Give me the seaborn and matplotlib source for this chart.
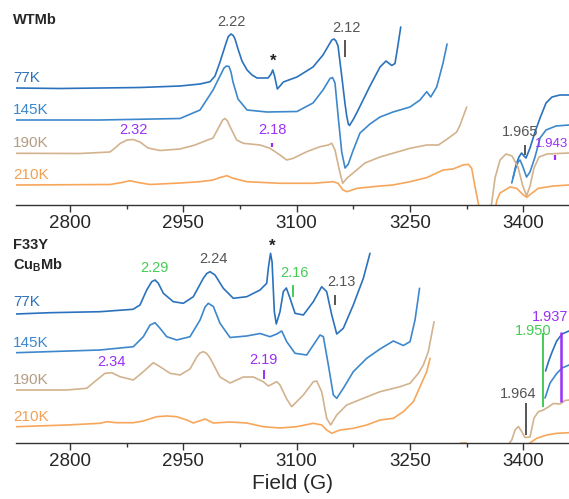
import matplotlib
matplotlib.use("Agg")
import matplotlib.pyplot as plt
import seaborn as sns

# ---- WTMb (top panel); field in G, intensity in arbitrary units ----
wt77_f = [2728.5, 2786.8, 2839.7, 2892.6, 2945.6, 2972.1, 2985.3, 2991.9, 2998.5, 3006.5,
          3009.5, 3013.1, 3016.0, 3018.4, 3022.3, 3027.6, 3034.3, 3040.9, 3047.5, 3062.1,
          3066.1, 3068.3, 3070.7, 3074.4, 3077.9, 3082.3, 3100.4, 3121.6, 3134.8, 3144.1,
          3146.5, 3149.4, 3152.0, 3154.7, 3159.6, 3164.0, 3166.0, 3168.3, 3170.0, 3171.9,
          3174.5, 3179.4, 3197.0, 3210.3, 3218.2, 3225.8, 3230.1, 3234.1, 3237.7]
wt77_i = [117, 116.5, 117, 117.5, 119, 121, 123.3, 129, 143, 162,
          168.5, 171, 169.5, 166, 156, 144, 135, 130, 127, 127,
          131, 135, 129, 116, 119, 123, 128, 138, 150, 162,
          165, 166, 164, 159, 129, 101, 90, 81, 79.5, 82,
          85, 92, 119, 138, 144, 139.5, 141.5, 160, 178]
wt77r_f = [3386.3, 3390.2, 3394.2, 3397.6, 3400.9, 3403.5, 3408.8, 3415.4, 3422.1, 3430.0,
           3437.9, 3448.5, 3460.4]
wt77r_i = [27, 40, 48, 52, 49, 47, 57, 73, 87, 102, 108, 110, 110]

wt145_f = [2728.5, 2839.7, 2945.6, 2972.1, 2989.3, 2998.5, 3003.8, 3007.0, 3010.4, 3013.0,
           3015.7, 3022.3, 3034.3, 3060.7, 3100.4, 3121.6, 3134.8, 3144.1, 3147.4, 3150.7,
           3155.1, 3159.6, 3164.0, 3168.3, 3174.9, 3183.8, 3197.0, 3210.3, 3227.5, 3250.0,
           3263.2, 3272.1, 3277.4, 3285.3, 3293.7, 3299.0]
wt145_i = [85, 85, 86.5, 95, 115, 129, 137, 139, 138.5, 133,
           123, 106, 95, 93, 93.5, 102, 115, 126.5, 127.5, 122,
           87, 53, 37, 41, 55, 72, 81, 88, 93, 98,
           105, 113.3, 108, 118, 142, 161]
wt145r_f = [3384.6, 3389.0, 3393.0, 3395.6, 3399.5, 3404.2, 3408.8, 3415.4, 3422.1, 3430.0,
            3443.2, 3460.4]
wt145r_i = [22, 35, 43, 45, 38, 28, 33, 48, 67, 75, 79, 80]

wt190_f = [2728.5, 2813.2, 2852.9, 2859.6, 2866.2, 2875.4, 2883.4, 2892.6, 2903.2, 2919.1,
           2945.6, 2965.4, 2978.7, 2989.3, 2998.5, 3002.0, 3005.1, 3008.5, 3011.8, 3020.6,
           3029.4, 3051.5, 3064.7, 3077.9, 3086.8, 3095.5, 3113.3, 3130.9, 3141.9, 3146.4,
           3150.7, 3156.4, 3160.9, 3166.2, 3179.4, 3190.4, 3210.3, 3250.0, 3272.1, 3287.5,
           3294.1, 3302.9, 3311.8, 3316.2, 3325.0]
wt190_i = [51.7, 51.5, 53, 57, 61.5, 65, 65.5, 63, 57, 54.5,
           56, 60, 64, 67, 80, 85, 86.5, 84, 78.3, 65,
           61.7, 60, 56.7, 50, 45, 46.7, 53.3, 58.3, 60, 61.7,
           55, 35, 21.7, 26.7, 35, 42, 48, 56.7, 60, 60,
           63.3, 68, 73, 80, 98]
wt190r_f = [3354.5, 3358.1, 3362.5, 3369.1, 3377.0, 3385.0, 3392.9, 3398.9, 3404.2, 3408.8,
            3414.1, 3420.7, 3431.3, 3460.4]
wt190r_i = [-10, 2, 27, 45, 51, 49, 38, 20, 9, 19, 37, 48, 51, 52]

wt210_f = [2728.5, 2852.9, 2868.8, 2879.4, 2890.0, 2905.9, 2945.6, 2972.1, 2989.3, 2998.5,
           3007.8, 3015.7, 3034.3, 3077.9, 3121.6, 3148.1, 3154.7, 3161.3, 3166.6, 3179.9,
           3210.3, 3227.5, 3250.0, 3272.5, 3293.7, 3306.9, 3320.1, 3327.2, 3331.6, 3336.0,
           3340.4, 3344.0, 3355.9, 3361.2, 3365.1, 3369.1, 3382.4, 3391.2, 3400.0, 3404.5,
           3411.0, 3419.8, 3439.7, 3460.4]
wt210_i = [20, 20.5, 22.5, 24.3, 22.5, 20.5, 22, 23.3, 25, 27.5,
           29.3, 26.7, 23.3, 21.7, 21.7, 23.3, 21.7, 15, 13.3, 16.7,
           19, 20, 23.3, 27.5, 35, 36, 40, 40.7, 36.7, 18.3,
           1.7, -20, -30, -10, 5, 12, 18, 16.7, 10, 7.7,
           11.7, 16.7, 19, 20]

# ---- F33Y CuBMb (bottom panel) ----
cu77_f = [2728.5, 2773.5, 2839.7, 2883.4, 2892.6, 2901.5, 2908.1, 2912.5, 2916.9, 2923.5,
          2936.7, 2950.0, 2963.2, 2976.4, 2981.0, 2985.3, 2991.9, 3002.9, 3016.1, 3033.9,
          3051.5, 3060.3, 3062.7, 3065.4, 3067.4, 3070.4, 3073.0, 3077.9, 3082.3, 3086.3,
          3091.2, 3097.8, 3108.8, 3122.0, 3133.1, 3139.7, 3146.4, 3153.0, 3161.7, 3174.9,
          3188.2, 3197.0]
cu77_i = [129, 130.3, 131.3, 133.7, 138, 153, 161.3, 163, 159.7, 149.7,
          141.3, 139.7, 146.3, 164.7, 169.5, 171.3, 168, 154.7, 144.7, 146.3,
          153, 159.7, 176.3, 189.7, 181, 131.3, 119, 131.3, 151.3, 155,
          144.7, 129.7, 128, 141.3, 156.3, 151.3, 128, 109, 114.7, 138,
          164.7, 189.7]
cu77r_f = [3429.4, 3434.0, 3438.0, 3444.1, 3451.2, 3460.4]
cu77r_i = [72, 83, 91, 102, 109, 112]

cu145_f = [2728.5, 2839.7, 2883.8, 2897.0, 2905.9, 2912.5, 2919.1, 2928.0, 2941.2, 2958.8,
           2972.1, 2978.7, 2983.0, 2989.7, 2998.5, 3011.8, 3033.9, 3051.5, 3064.7, 3073.6,
           3080.2, 3086.8, 3097.8, 3113.2, 3130.9, 3135.3, 3141.9, 3148.5, 3153.0, 3161.7,
           3174.9, 3192.7, 3210.3, 3227.9, 3241.1, 3250.0, 3256.6, 3262.6]
cu145_i = [90.3, 93, 96.3, 106.3, 118, 120.3, 114.7, 106.3, 103, 106.3,
           123, 136, 139.7, 136.5, 119.7, 105.5, 107, 109.5, 106.3, 109,
           112, 101.3, 89.7, 88, 108, 106.3, 78, 48, 44.7, 54.7,
           71.3, 84.7, 94, 102, 97.5, 101.3, 123, 154.7]
cu145r_f = [3428.7, 3435.3, 3444.1, 3451.2, 3460.4]
cu145r_i = [45, 60, 69.5, 75, 78]

cu190_f = [2728.5, 2795.6, 2822.1, 2835.3, 2846.3, 2855.2, 2866.2, 2883.8, 2897.0, 2910.2,
           2919.1, 2932.4, 2945.6, 2958.8, 2967.7, 2972.0, 2976.4, 2981.0, 2985.3, 2998.5,
           3011.8, 3029.4, 3042.6, 3055.8, 3062.4, 3073.6, 3077.9, 3086.8, 3093.4, 3108.8,
           3122.0, 3126.5, 3133.1, 3139.7, 3145.0, 3153.0, 3166.2, 3188.2, 3210.3, 3236.8,
           3250.0, 3261.0, 3267.6, 3274.2, 3281.8]
cu190_i = [53, 53, 54.7, 63, 69.7, 70.3, 66.3, 63, 71.3, 80.3,
           76.3, 69.7, 68, 74, 86, 90, 91.3, 89.5, 85, 66,
           60, 66, 66, 61.3, 57, 61.3, 58, 44, 36.3, 48,
           61.3, 62, 51.3, 24.7, 18, 28, 38, 44.7, 51.3, 56.3,
           59.7, 69.7, 78, 91.3, 121.3]
cu190r_f = [3379.7, 3384.6, 3389.0, 3393.4, 3398.2, 3402.2, 3408.8, 3414.1, 3419.8, 3426.4,
            3433.0, 3439.7, 3448.5, 3455.1, 3460.4]
cu190r_i = [-2, 3, 13, 16.5, 11, 5.5, 6, 25, 31.3, 33, 36, 39.5, 39, 42.5, 43]

cu210_f = [2728.5, 2795.6, 2839.7, 2848.6, 2861.8, 2883.8, 2897.0, 2914.7, 2928.0, 2941.2,
           2954.5, 2963.2, 2978.7, 2989.7, 3011.8, 3033.9, 3055.8, 3077.9, 3100.0, 3122.0,
           3133.1, 3139.7, 3146.4, 3157.3, 3174.9, 3192.7, 3210.3, 3227.9, 3241.1, 3254.4,
           3263.2, 3272.1, 3276.5]
cu210_i = [16.3, 18, 19.7, 21.3, 20.3, 20.3, 22, 26.3, 27, 26.3,
           23, 20, 24, 20, 21, 20, 16.3, 15, 16.3, 19.7,
           18, 13, 9.7, 13, 14.7, 18, 23, 24.7, 31.3, 41.3,
           56.3, 71.3, 84.7]
cu210r_f = [3309.5, 3317.5, 3324.1, 3332.0, 3395.6, 3403.5, 3406.6, 3417.7, 3430.9, 3444.1, 3460.4]
cu210r_i = [-7, 0, 0, -7, -17, -5, -1, 4.7, 8, 9.7, 10.3]

C77, C145, C190, C210 = "#2b72bd", "#3d88cc", "#d2b38e", "#f7a65a"
GREY, GREEN, PURPLE = "#555555", "#44cc55", "#9b30f5"

sns.set_theme(style="white")
plt.rcParams["font.family"] = ["Liberation Sans", "DejaVu Sans"]

fig = plt.figure(figsize=(5.69, 4.99), dpi=100)
ax1 = fig.add_axes([16 / 569, 1 - 205 / 499, 553 / 569, 205 / 499])
ax2 = fig.add_axes([16 / 569, 1 - 443 / 499, 553 / 569, 200 / 499])


def trace(ax, f, i, color):
    sns.lineplot(x=f, y=i, ax=ax, color=color, lw=1.2, sort=False, estimator=None,
                 solid_joinstyle="round", solid_capstyle="round")


for f, i, c in [(wt77_f, wt77_i, C77), (wt77r_f, wt77r_i, C77),
                (wt145_f, wt145_i, C145), (wt145r_f, wt145r_i, C145),
                (wt190_f, wt190_i, C190), (wt190r_f, wt190r_i, C190),
                (wt210_f, wt210_i, C210)]:
    trace(ax1, f, i, c)

for f, i, c in [(cu77_f, cu77_i, C77), (cu77r_f, cu77r_i, C77),
                (cu145_f, cu145_i, C145), (cu145r_f, cu145r_i, C145),
                (cu190_f, cu190_i, C190), (cu190r_f, cu190r_i, C190),
                (cu210_f, cu210_i, C210), (cu210r_f, cu210r_i, C210)]:
    trace(ax2, f, i, c)

for ax, top in [(ax1, 205), (ax2, 200)]:
    ax.set_xlim(2728.5, 3460.4)
    ax.set_ylim(0, top)
    ax.set_facecolor("none")
    for s in ["top", "left", "right"]:
        ax.spines[s].set_visible(False)
    ax.spines["bottom"].set_color("#333333")
    ax.spines["bottom"].set_linewidth(1.0)
    ax.set_yticks([])
    ax.set_xticks([2800, 2950, 3100, 3250, 3400])
    ax.set_xticks([2875, 3025, 3175, 3325], minor=True)
    ax.tick_params(axis="x", which="major", direction="out", length=5, width=1,
                   color="#333333", labelsize=13.5, pad=2, bottom=True)
    ax.tick_params(axis="x", which="minor", direction="out", length=3, width=1,
                   color="#333333", bottom=True)
    ax.set_xlabel("")
    ax.set_ylabel("")

ax2.set_xlabel("Field (G)", fontsize=15, labelpad=3)

# sample labels
x0 = 2724.6
ax1.text(x0, 185, "WTMb", fontsize=10.5, fontweight="bold", va="center")
ax2.text(x0, 198, "F33Y", fontsize=10.5, fontweight="bold", va="center")
ax2.text(x0, 178, r"Cu$_\mathregular{B}$Mb", fontsize=10.5, fontweight="bold", va="center")
for ax, ys in [(ax1, [126.7, 95, 61.7, 30]), (ax2, [141.3, 99.7, 63, 26.3])]:
    for y, lab, c in zip(ys, ["77K", "145K", "190K", "210K"],
                         [C77, C145, "#b49d84", "#f2a052"]):
        ax.text(x0, y, lab, fontsize=11, color=c, va="center")

# g-value annotations
kw = dict(fontsize=10.5, va="center", ha="center")
ax1.text(3013.1, 183, "2.22", color=GREY, **kw)
ax1.text(3069.1, 144, "*", color="#222222", fontsize=12, fontweight="bold", ha="center", va="center")
ax1.text(3166.2, 176.7, "2.12", color=GREY, **kw)
ax1.vlines(3164.0, 148, 165, color=GREY, lw=1.4)
ax1.text(2883.8, 75, "2.32", color=PURPLE, **kw)
ax1.text(3067.7, 75, "2.18", color=PURPLE, **kw)
ax1.vlines(3067.7, 57.7, 62.3, color=PURPLE, lw=1.6)
ax1.text(3395.6, 73.3, "1.965", color=GREY, **kw)
ax1.vlines(3402.2, 50, 60, color=GREY, lw=1.4)
ax1.text(3459.7, 61, "1.943", color=PURPLE, fontsize=9.5, va="center", ha="right")
ax1.vlines(3441.9, 45.5, 50, color=PURPLE, lw=1.6)

ax2.text(2911.2, 174.7, "2.29", color=GREEN, **kw)
ax2.text(2989.7, 184, "2.24", color=GREY, **kw)
ax2.text(3066.9, 197, "*", color="#222222", fontsize=12, fontweight="bold", ha="center", va="center")
ax2.text(3096.5, 169.7, "2.16", color=GREEN, **kw)
ax2.vlines(3095.5, 146.3, 158, color=GREEN, lw=1.4)
ax2.text(3159.6, 161.3, "2.13", color=GREY, **kw)
ax2.vlines(3150.7, 138, 148, color=GREY, lw=1.4)
ax2.text(2855.2, 81.3, "2.34", color=PURPLE, **kw)
ax2.text(3055.4, 83.5, "2.19", color=PURPLE, **kw)
ax2.vlines(3057.2, 64, 73, color=PURPLE, lw=1.4)
ax2.text(3393.6, 49, "1.964", color=GREY, **kw)
ax2.vlines(3403.5, 8, 39.7, color=GREY, lw=1.4)
ax2.text(3412.4, 112, "1.950", color=GREEN, **kw)
ax2.vlines(3426.4, 36.3, 110, color=GREEN, lw=1.4)
ax2.text(3459.7, 126.3, "1.937", color=PURPLE, fontsize=10.5, va="center", ha="right")
ax2.vlines(3449.8, 41.3, 111.3, color=PURPLE, lw=1.8)

fig.savefig("out.png", dpi=100)
